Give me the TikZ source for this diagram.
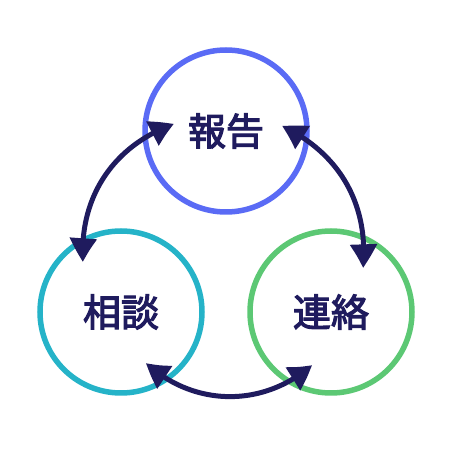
\documentclass[tikz,border=0pt]{standalone}
\usepackage{fontspec}
\newfontfamily\cjk{Noto Sans CJK JP}[FakeBold=3]
\usetikzlibrary{arrows.meta,bending}
\definecolor{navy}{HTML}{1F1B5E}
\definecolor{cblue}{HTML}{5A6BF5}
\definecolor{cteal}{HTML}{25B3C8}
\definecolor{cgreen}{HTML}{5CC874}
\begin{document}
\begin{tikzpicture}[x=1pt,y=1pt,
  ring/.style={draw=#1, line width=5.5pt, circle, minimum size=162pt, inner sep=0pt,
    text=navy, font=\cjk\fontsize{38}{38}\selectfont},
  cyc/.style={draw=navy, line width=5pt,
    arrows={Triangle[length=24pt,width=26pt,bend]-Triangle[length=24pt,width=26pt,bend]}}]
\useasboundingbox (0,0) rectangle (469,450);
\node[ring=cblue]  (hou) at (226,319) {報告};
\node[ring=cteal]  (sou) at (121,138) {相談};
\node[ring=cgreen] (ren) at (331,138) {連絡};
\coordinate (la) at (174,326);
\coordinate (lb) at (83,188);
\coordinate (ra) at (282,324);
\coordinate (rb) at (363,182);
\coordinate (ba) at (146,87);
\coordinate (bb) at (312,85);
\draw[cyc] (la) to[bend right=37] (lb);
\draw[cyc] (ra) to[bend left=35] (rb);
\draw[cyc] (ba) to[bend right=42] (bb);
\end{tikzpicture}
\end{document}
